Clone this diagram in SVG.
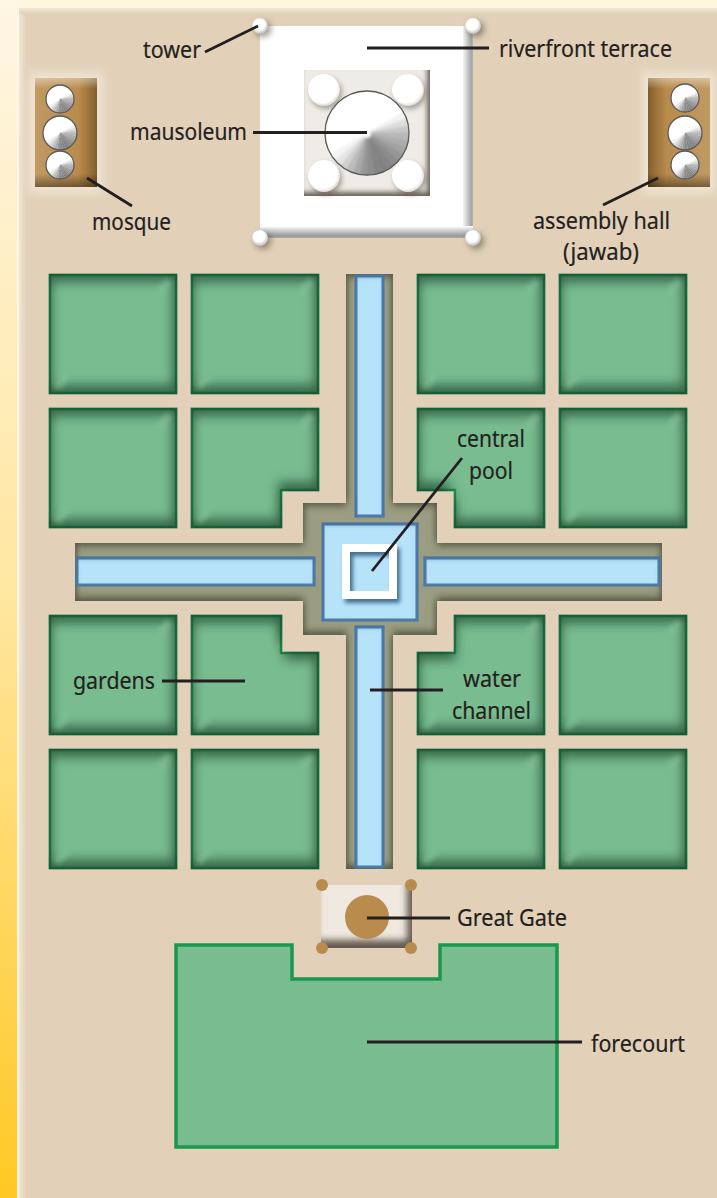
<svg xmlns="http://www.w3.org/2000/svg" width="717" height="1198" viewBox="0 0 717 1198">
<style>
text{font-family:"Noto Sans","Open Sans",sans-serif;font-size:24px;fill:#231f20;stroke:#231f20;stroke-width:.2}
.garden{fill:#79bc90;stroke:#1a9850;stroke-width:2.5;filter:url(#bevelG)}
.water{fill:#b6e3fa;stroke:#4f7ba8;stroke-width:3;filter:url(#bevelW)}
.leader{fill:none;stroke:#231f20;stroke-width:2.8}
.tower{fill:url(#ball);filter:url(#drop)}
.pav{fill:url(#ball2);filter:url(#dropS)}
.gold{fill:#b98b4d}
.outline{fill:none;stroke:#5a5a5a;stroke-width:1.3;vector-effect:non-scaling-stroke}
</style>
<defs>
<linearGradient id="strip" x1="0" y1="0" x2="0" y2="1"><stop offset="0" stop-color="#fff6e4"/><stop offset=".5" stop-color="#ffe69f"/><stop offset="1" stop-color="#ffc824"/></linearGradient>
<linearGradient id="edgeL" x1="0" y1="0" x2="1" y2="0"><stop offset="0" stop-color="#f1e6d6"/><stop offset="1" stop-color="#e2d1b8"/></linearGradient>
<linearGradient id="edgeT" x1="0" y1="0" x2="0" y2="1"><stop offset="0" stop-color="#f1e6d6"/><stop offset="1" stop-color="#e2d1b8"/></linearGradient>
<linearGradient id="terrR" x1="0" y1="0" x2="1" y2="0"><stop offset="0" stop-color="#fff"/><stop offset=".85" stop-color="#a5a5a5"/><stop offset="1" stop-color="#b5b5b5"/></linearGradient>
<linearGradient id="terrB" x1="0" y1="0" x2="0" y2="1"><stop offset="0" stop-color="#fff"/><stop offset=".8" stop-color="#9a9a9a"/><stop offset="1" stop-color="#a8a8a8"/></linearGradient>
<linearGradient id="brownR" x1="0" y1="0" x2="1" y2="0"><stop offset="0" stop-color="#c09a63"/><stop offset=".7" stop-color="#b98b4d"/><stop offset=".88" stop-color="#9a7239"/><stop offset="1" stop-color="#7f5d2c"/></linearGradient>
<linearGradient id="brownL" x1="1" y1="0" x2="0" y2="0"><stop offset="0" stop-color="#c09a63"/><stop offset=".7" stop-color="#b98b4d"/><stop offset=".88" stop-color="#9a7239"/><stop offset="1" stop-color="#7f5d2c"/></linearGradient>
<linearGradient id="brownV" x1="0" y1="0" x2="0" y2="1"><stop offset="0" stop-color="#fff" stop-opacity=".4"/><stop offset=".1" stop-color="#fff" stop-opacity="0"/><stop offset=".88" stop-color="#000" stop-opacity="0"/><stop offset="1" stop-color="#000" stop-opacity=".4"/></linearGradient>
<radialGradient id="ball" cx=".45" cy=".4" r=".62"><stop offset=".55" stop-color="#fff"/><stop offset="1" stop-color="#b5b5b5"/></radialGradient>
<radialGradient id="ball2" cx=".46" cy=".44" r=".58"><stop offset=".78" stop-color="#fff"/><stop offset="1" stop-color="#d6d2cd"/></radialGradient>
<filter id="bevelG" filterUnits="userSpaceOnUse" x="0" y="0" width="717" height="1198" color-interpolation-filters="sRGB">
<feComponentTransfer in="SourceAlpha" result="inv"><feFuncA type="table" tableValues="1 0"/></feComponentTransfer>
<feOffset in="inv" dx="2" dy="8"/><feGaussianBlur stdDeviation="6" result="a"/>
<feOffset in="inv" dx="-4" dy="-9"/><feGaussianBlur stdDeviation="6" result="b"/>
<feMerge result="m"><feMergeNode in="a"/><feMergeNode in="b"/></feMerge>
<feFlood flood-color="#17402a" flood-opacity=".7"/><feComposite in2="m" operator="in"/><feComposite in2="SourceAlpha" operator="in" result="s"/>
<feMerge><feMergeNode in="SourceGraphic"/><feMergeNode in="s"/></feMerge>
</filter>
<filter id="bevelW" filterUnits="userSpaceOnUse" x="0" y="0" width="717" height="1198" color-interpolation-filters="sRGB">
<feComponentTransfer in="SourceAlpha" result="inv"><feFuncA type="table" tableValues="1 0"/></feComponentTransfer>
<feOffset in="inv" dx="0" dy="2"/><feGaussianBlur stdDeviation="2.5" result="m"/>
<feFlood flood-color="#3d6d94" flood-opacity=".55"/><feComposite in2="m" operator="in"/><feComposite in2="SourceAlpha" operator="in" result="s"/>
<feMerge><feMergeNode in="SourceGraphic"/><feMergeNode in="s"/></feMerge>
</filter>
<filter id="bevelO" filterUnits="userSpaceOnUse" x="0" y="0" width="717" height="1198" color-interpolation-filters="sRGB">
<feComponentTransfer in="SourceAlpha" result="inv"><feFuncA type="table" tableValues="1 0"/></feComponentTransfer>
<feOffset in="inv" dx="0" dy="3"/><feGaussianBlur stdDeviation="3.5" result="a"/>
<feOffset in="inv" dx="0" dy="-4"/><feGaussianBlur stdDeviation="3.5" result="b"/>
<feMerge result="m"><feMergeNode in="a"/><feMergeNode in="b"/></feMerge>
<feFlood flood-color="#3c402c" flood-opacity=".7"/><feComposite in2="m" operator="in"/><feComposite in2="SourceAlpha" operator="in" result="s"/>
<feMerge><feMergeNode in="SourceGraphic"/><feMergeNode in="s"/></feMerge>
</filter>
<filter id="bevelGate" filterUnits="userSpaceOnUse" x="280" y="860" width="180" height="120" color-interpolation-filters="sRGB">
<feComponentTransfer in="SourceAlpha" result="inv"><feFuncA type="table" tableValues="1 0"/></feComponentTransfer>
<feOffset in="inv" dx="-5" dy="-8"/><feGaussianBlur stdDeviation="3.5" result="b"/>
<feFlood flood-color="#4a4034" flood-opacity=".85"/><feComposite in2="b" operator="in"/><feComposite in2="SourceAlpha" operator="in" result="s"/>
<feMerge><feMergeNode in="SourceGraphic"/><feMergeNode in="s"/></feMerge>
</filter>
<filter id="bevelM" filterUnits="userSpaceOnUse" x="280" y="50" width="170" height="170" color-interpolation-filters="sRGB">
<feComponentTransfer in="SourceAlpha" result="inv"><feFuncA type="table" tableValues="1 0"/></feComponentTransfer>
<feOffset in="inv" dx="-3" dy="-4"/><feGaussianBlur stdDeviation="2.5" result="b"/>
<feFlood flood-color="#4a4034" flood-opacity=".8"/><feComposite in2="b" operator="in"/><feComposite in2="SourceAlpha" operator="in" result="s"/>
<feMerge><feMergeNode in="SourceGraphic"/><feMergeNode in="s"/></feMerge>
</filter>
<filter id="drop" x="-60%" y="-60%" width="240%" height="240%" color-interpolation-filters="sRGB"><feDropShadow dx="3" dy="3" stdDeviation="3" flood-color="#3a3226" flood-opacity=".5"/></filter>
<filter id="dropS" x="-40%" y="-40%" width="180%" height="180%" color-interpolation-filters="sRGB"><feDropShadow dx="2" dy="3" stdDeviation="2.5" flood-color="#3a3226" flood-opacity=".4"/></filter>
<filter id="dropW" filterUnits="userSpaceOnUse" x="320" y="525" width="100" height="100" color-interpolation-filters="sRGB"><feDropShadow dx="3" dy="4" stdDeviation="2" flood-color="#2f5a7d" flood-opacity=".85"/></filter>
<filter id="glow" x="-30%" y="-30%" width="160%" height="160%"><feGaussianBlur stdDeviation="5"/></filter>
<filter id="soft" x="-100%" y="-100%" width="300%" height="300%"><feGaussianBlur stdDeviation="1.5"/></filter>
<filter id="softer" filterUnits="userSpaceOnUse" x="-30" y="-30" width="60" height="60"><feGaussianBlur stdDeviation="2.5"/></filter>
<filter id="smear" x="-20%" y="-20%" width="140%" height="140%"><feGaussianBlur stdDeviation="3"/></filter>
<clipPath id="domeClip"><circle r="100"/></clipPath>
<g id="dome"><g clip-path="url(#domeClip)">
<circle r="100" fill="#fff"/>
<g filter="url(#smear)">
<path d="M0 0L95.3 -55L103.4 -37.6Z" fill="#f2f2f2" stroke="#f2f2f2"/>
<path d="M0 0L103.4 -37.6L108.3 -19.1Z" fill="#dedede" stroke="#dedede"/>
<path d="M0 0L108.3 -19.1L110 0Z" fill="#c8c8c8" stroke="#c8c8c8"/>
<path d="M0 0L110 0L108.3 19.1Z" fill="#b8b8b8" stroke="#b8b8b8"/>
<path d="M0 0L108.3 19.1L103.4 37.6Z" fill="#adadad" stroke="#adadad"/>
<path d="M0 0L103.4 37.6L95.3 55Z" fill="#a2a2a2" stroke="#a2a2a2"/>
<path d="M0 0L95.3 55L84.3 70.7Z" fill="#969696" stroke="#969696"/>
<path d="M0 0L84.3 70.7L70.7 84.3Z" fill="#8c8c8c" stroke="#8c8c8c"/>
<path d="M0 0L70.7 84.3L55 95.3Z" fill="#848484" stroke="#848484"/>
<path d="M0 0L55 95.3L37.6 103.4Z" fill="#808080" stroke="#808080"/>
<path d="M0 0L37.6 103.4L19.1 108.3Z" fill="#848484" stroke="#848484"/>
<path d="M0 0L19.1 108.3L0 110Z" fill="#8c8c8c" stroke="#8c8c8c"/>
<path d="M0 0L0 110L-19.1 108.3Z" fill="#989898" stroke="#989898"/>
<path d="M0 0L-19.1 108.3L-37.6 103.4Z" fill="#a8a8a8" stroke="#a8a8a8"/>
<path d="M0 0L-37.6 103.4L-55 95.3Z" fill="#bbb" stroke="#bbb"/>
<path d="M0 0L-55 95.3L-70.7 84.3Z" fill="#d0d0d0" stroke="#d0d0d0"/>
<path d="M0 0L-70.7 84.3L-84.3 70.7Z" fill="#e4e4e4" stroke="#e4e4e4"/>
<path d="M0 0L-84.3 70.7L-95.3 55Z" fill="#f4f4f4" stroke="#f4f4f4"/>
</g>
</g><circle r="100" class="outline"/></g>
<path id="hlBL" d="M6 -6L17 -17" fill="none" stroke="#82c298" stroke-width="7" stroke-opacity=".7" filter="url(#softer)"/>
<path id="hlTR" d="M-6 6L-17 17" fill="none" stroke="#82c298" stroke-width="7" stroke-opacity=".7" filter="url(#softer)"/>
</defs>

<g id="background">
<rect width="717" height="1198" fill="#fff4dc"/>
<rect x="0" y="0" width="17" height="1198" fill="url(#strip)"/>
<rect x="17" y="8" width="2" height="1190" fill="#fff6e6"/>
<rect x="19" y="8" width="698" height="1190" fill="#e2d1b8"/>
<rect x="19" y="8" width="7" height="1190" fill="url(#edgeL)"/>
<rect x="19" y="8" width="698" height="6" fill="url(#edgeT)"/>
</g>

<g id="mosque">
<rect x="29" y="72" width="74" height="121" fill="#efe3d2" filter="url(#glow)"/>
<rect x="35" y="78" width="62" height="109" fill="url(#brownR)"/>
<rect x="35" y="78" width="62" height="109" fill="url(#brownV)"/>
<use href="#dome" transform="translate(60,99) scale(.14)"/>
<use href="#dome" transform="translate(60,133) scale(.17)"/>
<use href="#dome" transform="translate(60,165) scale(.14)"/>
<text x="92" y="230" textLength="79" lengthAdjust="spacingAndGlyphs">mosque</text>
</g>

<g id="assembly-hall">
<rect x="642" y="72" width="74" height="121" fill="#efe3d2" filter="url(#glow)"/>
<rect x="648" y="78" width="62" height="109" fill="url(#brownL)"/>
<rect x="648" y="78" width="62" height="109" fill="url(#brownV)"/>
<use href="#dome" transform="translate(685,98) scale(.14)"/>
<use href="#dome" transform="translate(685,133) scale(.17)"/>
<use href="#dome" transform="translate(685,165) scale(.14)"/>
<text x="533" y="229" textLength="137" lengthAdjust="spacingAndGlyphs">assembly hall</text>
<text x="563" y="260" textLength="76" lengthAdjust="spacingAndGlyphs">(jawab)</text>
</g>

<g id="riverfront-terrace">
<rect x="462" y="26" width="11" height="212" fill="url(#terrR)"/>
<rect x="260" y="226" width="213" height="12" fill="url(#terrB)"/>
<rect x="260" y="26" width="203" height="201" fill="#fff"/>
<text x="499" y="57" textLength="173" lengthAdjust="spacingAndGlyphs">riverfront terrace</text>
</g>

<g id="tower">
<circle class="tower" cx="260" cy="26" r="8"/>
<circle class="tower" cx="473" cy="26" r="8"/>
<circle class="tower" cx="260" cy="238" r="8"/>
<circle class="tower" cx="473" cy="238" r="8"/>
<text x="143" y="58" textLength="58" lengthAdjust="spacingAndGlyphs">tower</text>
</g>

<g id="mausoleum">
<rect x="304" y="70" width="126" height="126" fill="#efebe6" filter="url(#bevelM)"/>
<circle class="pav" cx="324" cy="90" r="16"/>
<circle class="pav" cx="408" cy="90" r="16"/>
<circle class="pav" cx="324" cy="176" r="16"/>
<circle class="pav" cx="408" cy="176" r="16"/>
<use href="#dome" transform="translate(367,133) scale(.42)"/>
<circle cx="367" cy="134" r="4" fill="#fff" filter="url(#soft)"/>
<text x="130" y="140" textLength="117" lengthAdjust="spacingAndGlyphs">mausoleum</text>
</g>

<g id="gardens">
<rect class="garden" x="50" y="275" width="126" height="118"/>
<rect class="garden" x="192" y="275" width="126" height="118"/>
<rect class="garden" x="418" y="275" width="126" height="118"/>
<rect class="garden" x="560" y="275" width="126" height="118"/>
<rect class="garden" x="50" y="409" width="126" height="118"/>
<path class="garden" d="M192 409H318V490H281V527H192Z"/>
<path class="garden" d="M418 409H544V527H455V490H418Z"/>
<rect class="garden" x="560" y="409" width="126" height="118"/>
<rect class="garden" x="50" y="616" width="126" height="118"/>
<path class="garden" d="M192 616H281V653H318V734H192Z"/>
<path class="garden" d="M455 616H544V734H418V653H455Z"/>
<rect class="garden" x="560" y="616" width="126" height="118"/>
<rect class="garden" x="50" y="750" width="126" height="118"/>
<rect class="garden" x="192" y="750" width="126" height="118"/>
<rect class="garden" x="418" y="750" width="126" height="118"/>
<rect class="garden" x="560" y="750" width="126" height="118"/>
<use href="#hlTR" x="176" y="275"/><use href="#hlTR" x="318" y="275"/><use href="#hlTR" x="544" y="275"/><use href="#hlTR" x="686" y="275"/>
<use href="#hlTR" x="176" y="409"/><use href="#hlTR" x="318" y="409"/><use href="#hlTR" x="544" y="409"/><use href="#hlTR" x="686" y="409"/>
<use href="#hlTR" x="176" y="616"/><use href="#hlTR" x="544" y="616"/><use href="#hlTR" x="686" y="616"/>
<use href="#hlTR" x="176" y="750"/><use href="#hlTR" x="318" y="750"/><use href="#hlTR" x="544" y="750"/><use href="#hlTR" x="686" y="750"/>
<use href="#hlBL" x="50" y="393"/><use href="#hlBL" x="192" y="393"/><use href="#hlBL" x="418" y="393"/><use href="#hlBL" x="560" y="393"/>
<use href="#hlBL" x="50" y="527"/><use href="#hlBL" x="192" y="527"/><use href="#hlBL" x="560" y="527"/>
<use href="#hlBL" x="50" y="734"/><use href="#hlBL" x="192" y="734"/><use href="#hlBL" x="418" y="734"/><use href="#hlBL" x="560" y="734"/>
<use href="#hlBL" x="50" y="868"/><use href="#hlBL" x="192" y="868"/><use href="#hlBL" x="418" y="868"/><use href="#hlBL" x="560" y="868"/>
<text x="73" y="689" textLength="82" lengthAdjust="spacingAndGlyphs">gardens</text>
</g>

<g id="water-channel">
<path d="M346 274H393V503H437V543H662V601H437V635H393V869H346V635H303V601H75V543H303V503H346Z" fill="#9b9d82" filter="url(#bevelO)"/>
<rect class="water" x="356" y="276" width="27" height="240"/>
<rect class="water" x="356" y="627" width="27" height="240"/>
<rect class="water" x="77" y="558" width="237" height="27"/>
<rect class="water" x="425" y="558" width="234" height="27"/>
<text x="463" y="687" textLength="58" lengthAdjust="spacingAndGlyphs">water</text>
<text x="452" y="719" textLength="79" lengthAdjust="spacingAndGlyphs">channel</text>
</g>

<g id="central-pool">
<rect class="water" x="323" y="524" width="94" height="96"/>
<rect x="346" y="548" width="47" height="47" fill="none" stroke="#fff" stroke-width="8" filter="url(#dropW)"/>
<text x="457" y="447" textLength="68" lengthAdjust="spacingAndGlyphs">central</text>
<text x="469" y="479" textLength="44" lengthAdjust="spacingAndGlyphs">pool</text>
</g>

<g id="great-gate">
<rect x="321" y="885" width="91" height="63" fill="#f0e9df" filter="url(#bevelGate)"/>
<circle class="gold" cx="322" cy="885" r="6"/>
<circle class="gold" cx="411" cy="885" r="6"/>
<circle class="gold" cx="322" cy="948" r="6"/>
<circle class="gold" cx="411" cy="948" r="6"/>
<circle class="gold" cx="367" cy="917" r="22"/>
<text x="457" y="926" textLength="110" lengthAdjust="spacingAndGlyphs">Great Gate</text>
</g>

<g id="forecourt">
<path d="M176 945H292V979H440V945H557V1147H176Z" fill="#79bc90" stroke="#1a9850" stroke-width="3.500"/>
<text x="591" y="1052" textLength="94" lengthAdjust="spacingAndGlyphs">forecourt</text>
</g>

<g id="connectors">
<path class="leader" d="M205 52L258 26"/>
<path class="leader" d="M253 132.500H367"/>
<path class="leader" d="M87 178L132 206"/>
<path class="leader" d="M367 48H489"/>
<path class="leader" d="M603 205L658 178"/>
<path class="leader" d="M372 571L462 458"/>
<path class="leader" d="M162 681H245"/>
<path class="leader" d="M370 690H443"/>
<path class="leader" d="M367 918H450"/>
<path class="leader" d="M367 1042H582"/>
</g>
</svg>
